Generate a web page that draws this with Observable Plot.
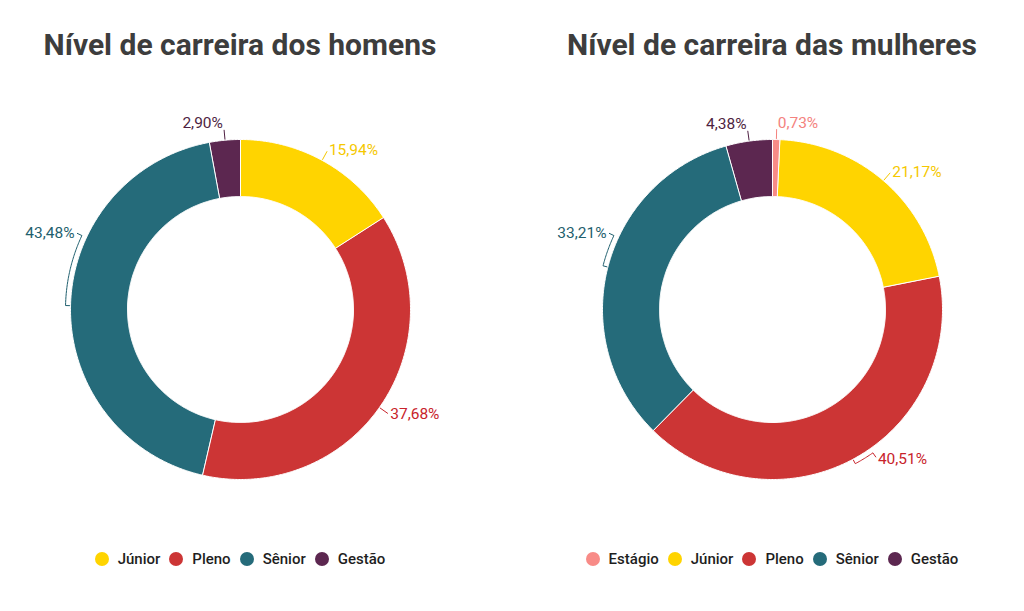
<!DOCTYPE html>
<html><head><meta charset="utf-8">
<script src="https://cdn.jsdelivr.net/npm/d3@7"></script>
<script src="https://cdn.jsdelivr.net/npm/@observablehq/plot@0.6"></script>
<style>
body{margin:0;background:#fff;font-family:Roboto, sans-serif;}
#wrap{position:relative;width:1024px;height:611px;overflow:hidden}
.panel{position:absolute;top:0;width:480px}
.title{height:90px;line-height:90px;text-align:center;font-weight:700;font-size:30px;color:#3d3d3d;white-space:nowrap}
.legend{display:flex;justify-content:center;align-items:center;font-size:15px;font-weight:500;color:#1e1e1e;height:58px}
.item{display:flex;align-items:center;margin:0 4.5px}
.sw{width:14px;height:14px;border-radius:50%;margin-right:9px}
</style></head>
<body><div id="wrap">
<div class="panel" id="left" style="left:0"></div>
<div class="panel" id="right" style="left:532px"></div>
</div>
<script>
const menTitle = "Nível de carreira dos homens";
const womenTitle = "Nível de carreira das mulheres";
const menCategories = ["Júnior", "Pleno", "Sênior", "Gestão"];
const menValues = [15.94, 37.68, 43.48, 2.90];
const womenCategories = ["Estágio", "Júnior", "Pleno", "Sênior", "Gestão"];
const womenValues = [0.73, 21.17, 40.51, 33.21, 4.38];
const categoryColors = {"Estágio": "#f88b87", "Júnior": "#ffd400", "Pleno": "#cc3535", "Sênior": "#256b7a", "Gestão": "#5c2750"};
const labelColors = {"Estágio": "#f4827e", "Júnior": "#f5c800", "Pleno": "#c8232b", "Sênior": "#1f5f6e", "Gestão": "#4e1f42"};

const R = 170, r = 113;
const deg = Math.PI / 180;
const fmt = v => v.toFixed(2).replace(".", ",") + "%";
// label placement: keep labels out of the left-horizontal and lower-right crowded zones
const labelAngle = a => (a > 240 * deg && a < 295 * deg) ? 295 * deg : (a > 145 * deg && a < 180 * deg) ? 145 * deg : a;

function build(el, title, cats, vals) {
  const total = d3.sum(vals);
  let acc = 0;
  const slices = cats.map((c, i) => {
    const a0 = acc / total * 2 * Math.PI;
    acc += vals[i];
    const a1 = acc / total * 2 * Math.PI;
    return {cat: c, value: vals[i], a0, a1, mid: (a0 + a1) / 2};
  });
  const poly = [];
  for (const s of slices) {
    const n = Math.max(2, Math.ceil((s.a1 - s.a0) / (Math.PI / 360)));
    for (let k = 0; k <= n; k++) {
      const a = s.a0 + (s.a1 - s.a0) * k / n;
      poly.push({cat: s.cat, color: categoryColors[s.cat], x: R * Math.sin(a), y: R * Math.cos(a)});
    }
    for (let k = n; k >= 0; k--) {
      const a = s.a0 + (s.a1 - s.a0) * k / n;
      poly.push({cat: s.cat, color: categoryColors[s.cat], x: r * Math.sin(a), y: r * Math.cos(a)});
    }
  }
  const leaders = [];
  const labels = slices.map(s => {
    const la = labelAngle(s.mid);
    const sn = Math.sin(la), cs = Math.cos(la);
    const col = labelColors[s.cat];
    const pts = [];
    pts.push([R + 1, s.mid]);
    if (Math.abs(la - s.mid) > 0.5 * deg) {
      const m = Math.ceil(Math.abs(la - s.mid) / (0.5 * deg));
      for (let k = 0; k <= m; k++) pts.push([R + 5, s.mid + (la - s.mid) * k / m]);
    }
    pts.push([R + 10, la]);
    for (const [rr, a] of pts) leaders.push({cat: s.cat, color: col, x: rr * Math.sin(a), y: rr * Math.cos(a)});
    return {
      ...s, text: fmt(s.value), color: col,
      lx: (R + 12) * sn, ly: (R + 12) * cs,
      anchor: sn >= 0 ? "start" : "end",
      line: cs > 0.9 ? "bottom" : cs < -0.9 ? "top" : "middle"
    };
  });
  const textMarks = [];
  for (const anchor of ["start", "end"]) for (const line of ["top", "middle", "bottom"]) {
    const sub = labels.filter(d => d.anchor === anchor && d.line === line);
    if (sub.length) textMarks.push(Plot.text(sub, {x: "lx", y: "ly", text: "text", fill: "color", textAnchor: anchor, lineAnchor: line, fontSize: 15.5, dx: anchor === "start" ? 1 : -1}));
  }
  const t = document.createElement("div");
  t.className = "title"; t.textContent = title;
  el.appendChild(t);
  const chart = Plot.plot({
    width: 480, height: 440, margin: 0,
    style: {fontFamily: "Roboto, sans-serif", background: "transparent"},
    x: {domain: [-240, 240], axis: null},
    y: {domain: [-221, 219], axis: null},
    marks: [
      Plot.line(poly, {x: "x", y: "y", z: "cat", fill: "color", stroke: "white", strokeWidth: 1, curve: "linear-closed"}),
      Plot.line(leaders, {x: "x", y: "y", z: "cat", stroke: "color", strokeWidth: 1}),
      ...textMarks
    ]
  });
  el.appendChild(chart);
  const lg = document.createElement("div");
  lg.className = "legend";
  for (const c of cats) {
    const it = document.createElement("div"); it.className = "item";
    const sw = document.createElement("span"); sw.className = "sw"; sw.style.background = categoryColors[c];
    const tx = document.createElement("span"); tx.textContent = c;
    it.appendChild(sw); it.appendChild(tx); lg.appendChild(it);
  }
  el.appendChild(lg);
}
build(document.getElementById("left"), menTitle, menCategories, menValues);
build(document.getElementById("right"), womenTitle, womenCategories, womenValues);
</script>
</body></html>
